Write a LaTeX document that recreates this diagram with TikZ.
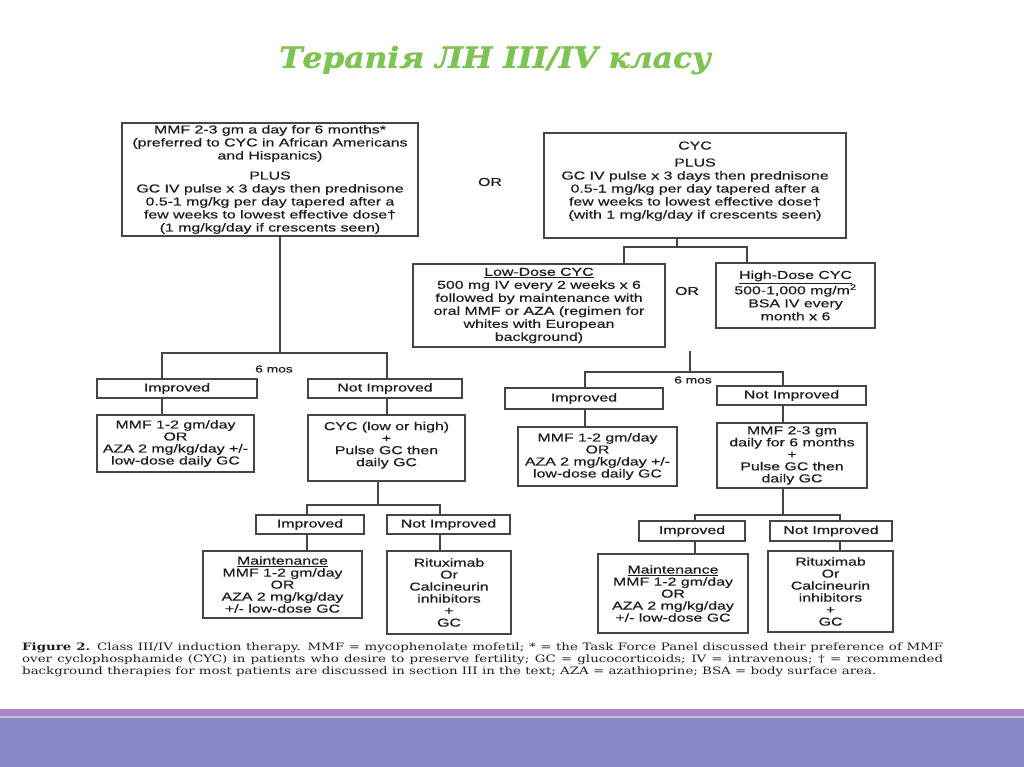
\documentclass[tikz,border=0pt]{standalone}
\usepackage{fontspec}
\newfontfamily\dfont[FakeStretch=1.38,FakeBold=0.5]{Liberation Sans}
\newfontfamily\cfont[FakeStretch=1.31]{DejaVu Serif}
\newfontfamily\tfont[FakeStretch=1.08,FakeBold=1.2]{DejaVu Serif}
\definecolor{boxc}{RGB}{70,70,70}
\definecolor{txtc}{RGB}{30,30,30}
\definecolor{titlec}{RGB}{126,196,82}
\definecolor{bandA}{RGB}{170,132,198}
\definecolor{bandB}{RGB}{136,136,198}
\definecolor{bandL}{RGB}{205,185,225}
\tikzset{
  box/.style={draw=boxc, line width=1.1pt, align=center, inner sep=0pt, text=txtc,
    font=\dfont\fontsize{11.5}{13}\selectfont},
  tight/.style={font=\dfont\fontsize{11.5}{12}\selectfont},
  plain/.style={align=center, inner sep=0pt, text=txtc, font=\dfont\fontsize{11.5}{13}\selectfont},
  small/.style={align=center, inner sep=0pt, text=txtc, font=\dfont\fontsize{10}{12}\selectfont},
  conn/.style={draw=boxc, line width=1.1pt},
  captext/.style={anchor=west, inner sep=0pt, text=txtc, font=\cfont\fontsize{10.2}{12}\selectfont}
}
\begin{document}
\begin{tikzpicture}[x=1pt,y=-1pt]
\useasboundingbox (0,0) rectangle (1024,767);
\fill[white] (0,0) rectangle (1024,767);
% footer bands
\fill[bandA] (0,709) rectangle (1024,716);
\fill[bandL] (0,716) rectangle (1024,718);
\fill[bandB] (0,718) rectangle (1024,767);
% title
\node[text=titlec, font=\tfont\bfseries\itshape\fontsize{29}{32}\selectfont, inner sep=0pt] (title) at (495,60) {Терапія ЛН III/IV класу};

% top boxes
\node[box, minimum width=296pt, minimum height=113pt] (tl) at (270,179.5)
 {MMF 2-3 gm a day for 6 months*\\(preferred to CYC in African Americans\\and Hispanics)\\[7pt]PLUS\\GC IV pulse x 3 days then prednisone\\0.5-1 mg/kg per day tapered after a\\few weeks to lowest effective dose†\\(1 mg/kg/day if crescents seen)};
\node[plain] (or1) at (490,182) {OR};
\node[box, minimum width=302pt, minimum height=105pt] (tr) at (695,185.5)
 {CYC\\[4pt]PLUS\\GC IV pulse x 3 days then prednisone\\0.5-1 mg/kg per day tapered after a\\few weeks to lowest effective dose†\\(with 1 mg/kg/day if crescents seen)\\[-2pt]};
\node[box, minimum width=252pt, minimum height=83pt] (ld) at (539,305.5)
 {\underline{Low-Dose CYC}\\500 mg IV every 2 weeks x 6\\followed by maintenance with\\oral MMF or AZA (regimen for\\whites with European\\background)};
\node[plain] (or2) at (687,291) {OR};
\node[box, minimum width=159pt, minimum height=65pt] (hd) at (795.5,295.5)
 {\underline{High-Dose CYC}\\500-1,000 mg/m\textsuperscript{2}\\BSA IV every\\month x 6};

% left tree
\node[small] (m1) at (274,369) {6 mos};
\node[box, minimum width=160pt, minimum height=19pt] (li) at (177,388.5) {Improved};
\node[box, minimum width=154pt, minimum height=19pt] (ln) at (385,388.5) {Not Improved};
\node[box, tight, minimum width=157pt, minimum height=57pt] (lm) at (175.5,443.5)
 {MMF 1-2 gm/day\\OR\\AZA 2 mg/kg/day +/-\\low-dose daily GC};
\node[box, tight, minimum width=157pt, minimum height=66pt] (lc) at (386.5,448)
 {CYC (low or high)\\+\\Pulse GC then\\daily GC\\[-4pt]};
\node[box, minimum width=108pt, minimum height=19pt] (lbi) at (310,524.5) {Improved};
\node[box, minimum width=123pt, minimum height=19pt] (lbn) at (448.5,524.5) {Not Improved};
\node[box, tight, minimum width=159pt, minimum height=67pt] (lbm) at (282.5,584.5)
 {\underline{Maintenance}\\MMF 1-2 gm/day\\OR\\AZA 2 mg/kg/day\\+/- low-dose GC};
\node[box, tight, minimum width=124pt, minimum height=83pt] (lbr) at (449,592.5)
 {Rituximab\\Or\\Calcineurin\\inhibitors\\+\\GC};

% right tree
\node[small] (m2) at (693,380) {6 mos};
\node[box, minimum width=158pt, minimum height=21pt] (ri) at (584,398.5) {Improved};
\node[box, minimum width=149pt, minimum height=19pt] (rn) at (791.5,395.5) {Not Improved};
\node[box, tight, minimum width=159pt, minimum height=59pt] (rm) at (597.5,456.5)
 {MMF 1-2 gm/day\\OR\\AZA 2 mg/kg/day +/-\\low-dose daily GC};
\node[box, tight, minimum width=150pt, minimum height=65pt] (rmm) at (792,455.5)
 {MMF 2-3 gm\\daily for 6 months\\+\\Pulse GC then\\daily GC};
\node[box, minimum width=106pt, minimum height=20pt] (rbi) at (692,531) {Improved};
\node[box, minimum width=122pt, minimum height=20pt] (rbn) at (831,531) {Not Improved};
\node[box, tight, minimum width=150pt, minimum height=79pt] (rbm) at (673,593.5)
 {\underline{Maintenance}\\MMF 1-2 gm/day\\OR\\AZA 2 mg/kg/day\\+/- low-dose GC};
\node[box, tight, minimum width=125pt, minimum height=81pt] (rbr) at (830.5,591.5)
 {Rituximab\\Or\\Calcineurin\\inhibitors\\+\\GC};

% junction coordinates
\coordinate (a1) at (280,353);
\coordinate (a2) at (162,353);
\coordinate (a3) at (387,353);
\coordinate (b1) at (378,505);
\coordinate (b2) at (307,505);
\coordinate (b3) at (440,505);
\coordinate (c1) at (677,247);
\coordinate (c2) at (624,247);
\coordinate (c3) at (747,247);
\coordinate (d0) at (690,351);
\coordinate (d1) at (690,372);
\coordinate (d2) at (585,372);
\coordinate (d3) at (783,372);
\coordinate (e1) at (783,515);
\coordinate (e2) at (695,515);
\coordinate (e3) at (840,515);

% connectors left
\draw[conn] (tl.south -| a1) -- (a1);
\draw[conn] (li.north -| a2) -- (a2) -- (a3) -- (ln.north -| a3);
\draw[conn] (li.south -| a2) -- (lm.north -| a2);
\draw[conn] (ln.south -| a3) -- (lc.north -| a3);
\draw[conn] (lc.south -| b1) -- (b1);
\draw[conn] (lbi.north -| b2) -- (b2) -- (b3) -- (lbn.north -| b3);
\draw[conn] (lbi.south -| b2) -- (lbm.north -| b2);
\draw[conn] (lbn.south -| b3) -- (lbr.north -| b3);
% connectors right
\draw[conn] (tr.south -| c1) -- (c1);
\draw[conn] (ld.north -| c2) -- (c2) -- (c3) -- (hd.north -| c3);
\draw[conn] (d0) -- (d1);
\draw[conn] (ri.north -| d2) -- (d2) -- (d3) -- (rn.north -| d3);
\draw[conn] (ri.south -| d2) -- (rm.north -| d2);
\draw[conn] (rn.south -| d3) -- (rmm.north -| d3);
\draw[conn] (rmm.south -| e1) -- (e1);
\draw[conn] (rbi.north -| e2) -- (e2) -- (e3) -- (rbn.north -| e3);
\draw[conn] (rbi.south -| e2) -- (rbm.north -| e2);
\draw[conn] (rbn.south -| e3) -- (rbr.north -| e3);

% caption
\node[captext] (cap1) at (22,648) {\makebox[921pt][s]{\textbf{Figure 2.} Class III/IV induction therapy. MMF = mycophenolate mofetil; * = the Task Force Panel discussed their preference of MMF}};
\node[captext] (cap2) at (22,660) {\makebox[921pt][s]{over cyclophosphamide (CYC) in patients who desire to preserve fertility; GC = glucocorticoids; IV = intravenous; † = recommended}};
\node[captext] (cap3) at (22,672) {background therapies for most patients are discussed in section III in the text; AZA = azathioprine; BSA = body surface area.};
\end{tikzpicture}
\end{document}
